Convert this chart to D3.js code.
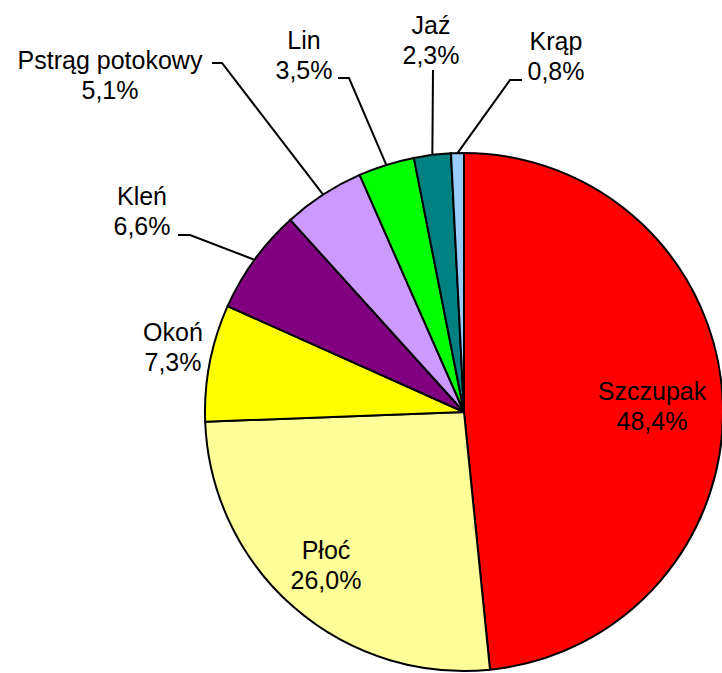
<!doctype html>
<html lang="pl">
<head>
  <meta charset="utf-8">
  <title>Udział gatunków</title>
  <style>
    body { margin: 0; background: #fff; }
    svg text {
      font-family: "Liberation Sans", Arial, sans-serif;
      font-size: 25px;
      fill: #000;
      text-anchor: middle;
    }
    .slices path { stroke: #000; stroke-width: 2; }
    .leaders polyline { fill: none; stroke: #000; stroke-width: 2; }
  </style>
</head>
<body>
<svg width="722" height="673"></svg>
<script src="https://d3js.org/d3.v7.min.js"></script>
<script>
  // data
  var species = ["Szczupak", "Płoć", "Okoń", "Kleń", "Pstrąg potokowy", "Lin", "Jaź", "Krąp"];
  var shares = [48.4, 26.0, 7.3, 6.6, 5.1, 3.5, 2.3, 0.8];
  var colors = ["#ff0000", "#ffff99", "#ffff00", "#800080", "#cc99ff", "#00ff00", "#008080", "#99ccff"];

  // label placement (first-line baseline, leader start and elbow)
  var labelLayout = {
    "Szczupak":        { x: 652, y: 400 },
    "Płoć":            { x: 326, y: 559 },
    "Okoń":            { x: 173, y: 341 },
    "Kleń":            { x: 142, y: 205, lead: [178, 235, 190] },
    "Pstrąg potokowy": { x: 110, y: 69,  lead: [212, 63, 222] },
    "Lin":             { x: 304, y: 49,  lead: [338, 78, 349] },
    "Jaź":             { x: 431, y: 34,  lead: [433, 70, 433] },
    "Krąp":            { x: 556, y: 50,  lead: [522, 80, 510] }
  };

  var svg = d3.select("svg"),
    cx = 464,
    cy = 412,
    radius = 259;

  var color = d3.scaleOrdinal().domain(species).range(colors);
  var fmt = function (v) { return d3.format(".1f")(v).replace(".", ",") + "%"; };

  var rows = species.map(function (s, i) { return { name: s, value: shares[i] }; });

  var pie = d3.pie()
    .value(function (d) { return d.value; })
    .sort(null);

  var arc = d3.arc().innerRadius(0).outerRadius(radius);
  var edge = d3.arc().innerRadius(radius).outerRadius(radius);

  var g = svg.append("g").attr("transform", "translate(" + cx + "," + cy + ")");
  var arcs = pie(rows);

  g.append("g")
    .attr("class", "slices")
    .selectAll("path")
    .data(arcs)
    .enter().append("path")
    .attr("d", arc)
    .attr("fill", function (d) { return color(d.data.name); });

  // leader lines from label elbow to the arc edge at the slice middle
  svg.append("g")
    .attr("class", "leaders")
    .selectAll("polyline")
    .data(arcs.filter(function (d) { return labelLayout[d.data.name].lead; }))
    .enter().append("polyline")
    .attr("points", function (d) {
      var l = labelLayout[d.data.name].lead;
      var c = edge.centroid(d);
      return [[l[0], l[1]], [l[2], l[1]], [cx + c[0], cy + c[1]]].join(" ");
    });

  var labels = svg.append("g")
    .selectAll("text")
    .data(arcs)
    .enter().append("text")
    .attr("x", function (d) { return labelLayout[d.data.name].x; })
    .attr("y", function (d) { return labelLayout[d.data.name].y; });

  labels.append("tspan")
    .attr("x", function (d) { return labelLayout[d.data.name].x; })
    .text(function (d) { return d.data.name; });

  labels.append("tspan")
    .attr("x", function (d) { return labelLayout[d.data.name].x; })
    .attr("dy", 30)
    .text(function (d) { return fmt(d.data.value); });
</script>
</body>
</html>
